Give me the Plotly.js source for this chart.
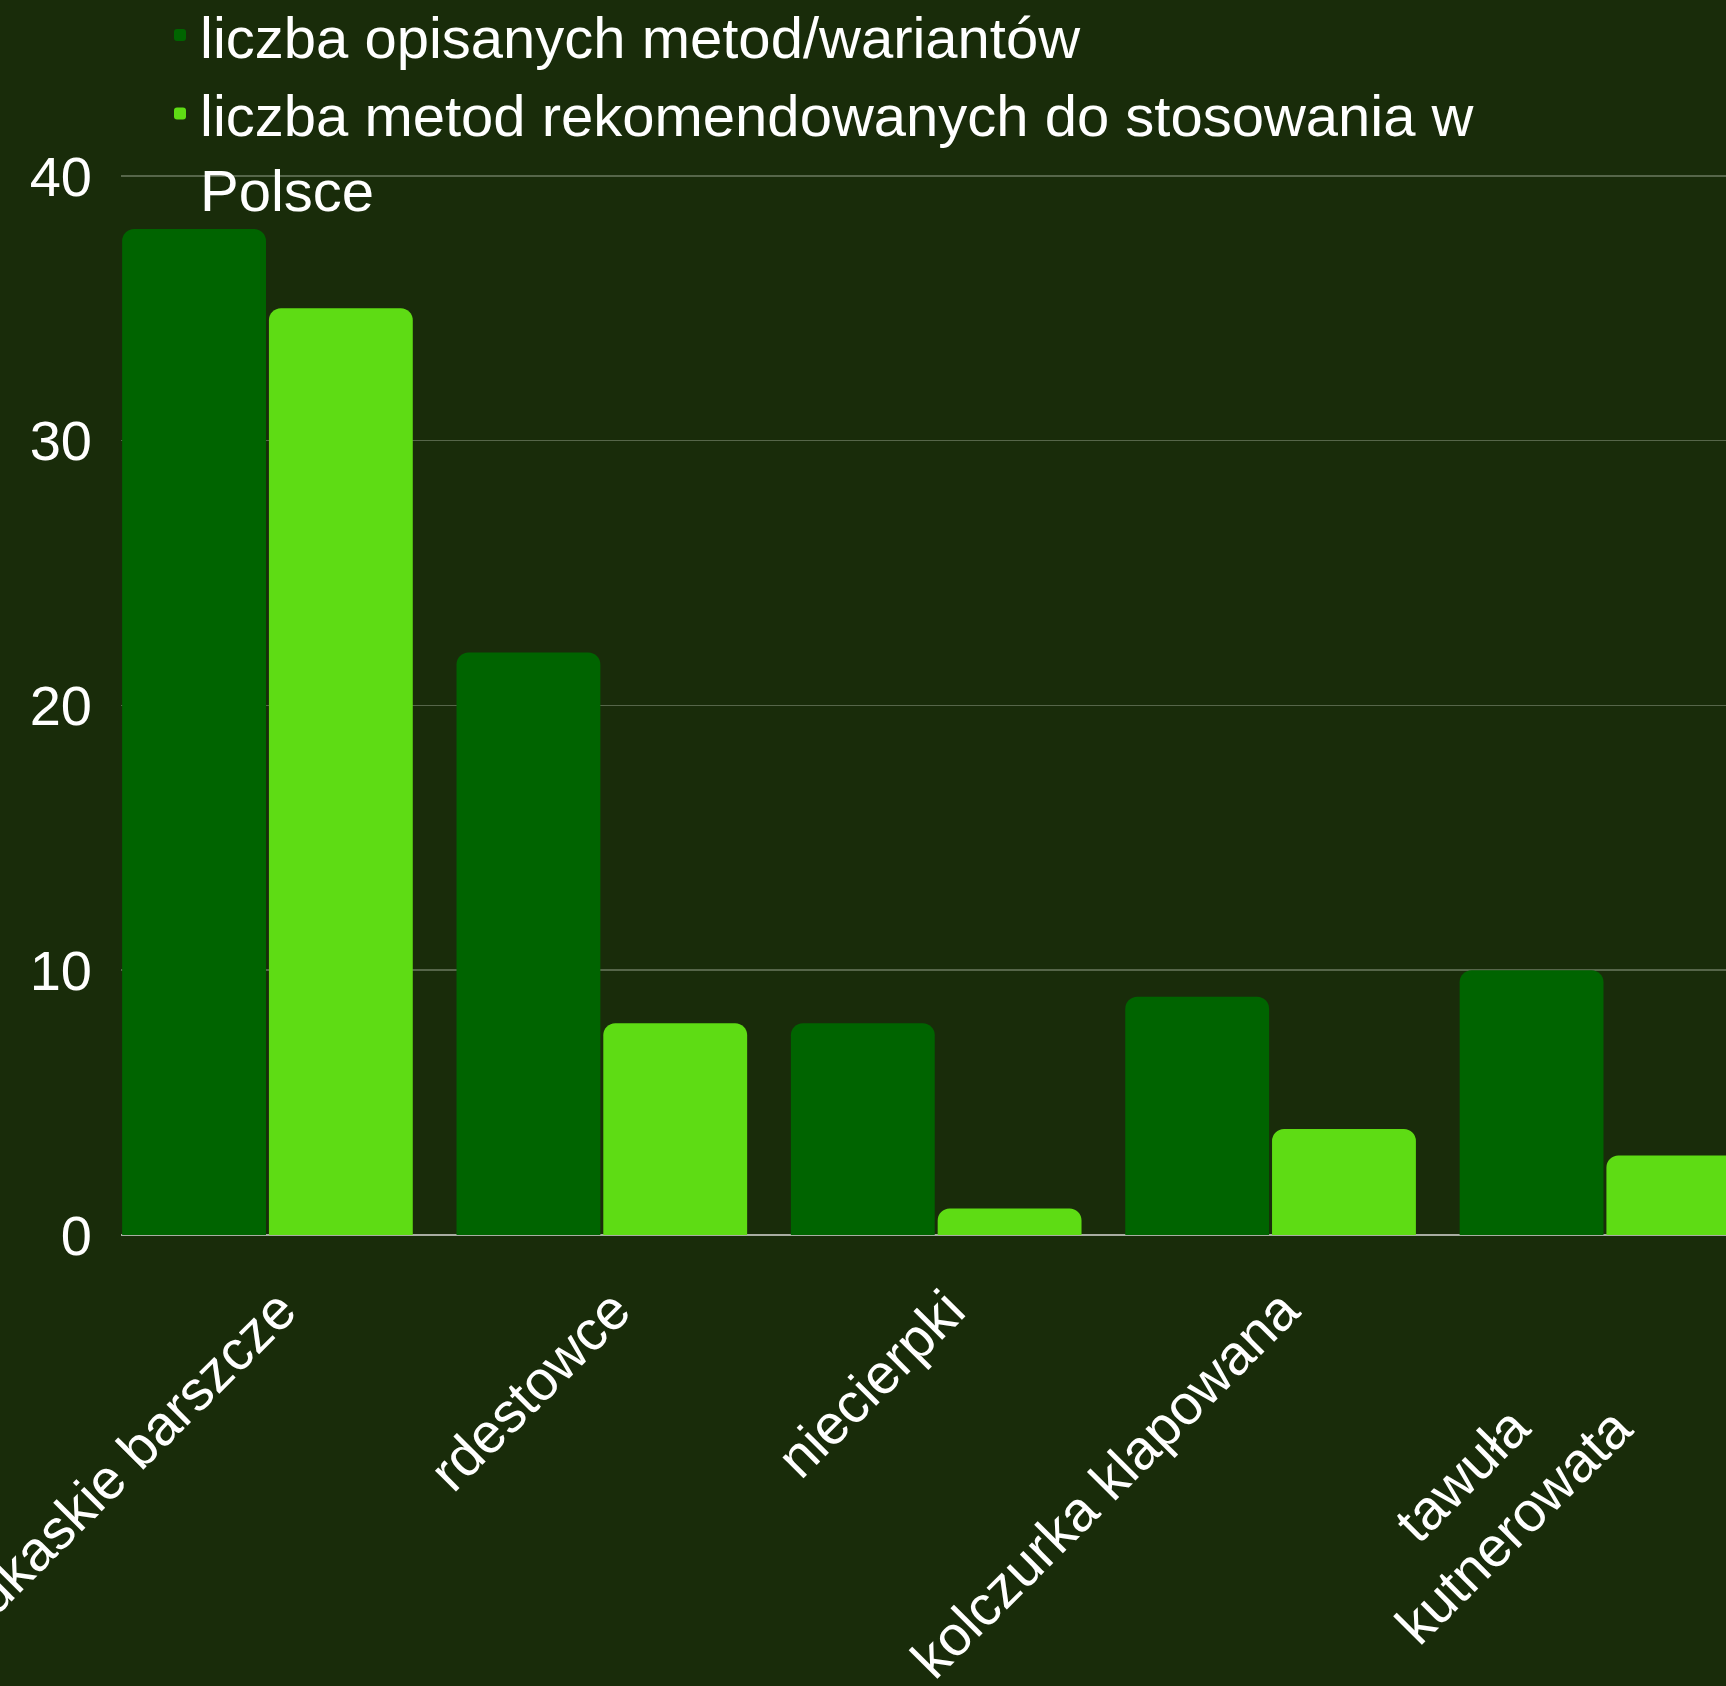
<!DOCTYPE html>
<html>
<head>
<meta charset="utf-8">
<script src="https://cdn.plot.ly/plotly-3.0.1.min.js"></script>
<style>
  html, body { margin: 0; padding: 0; overflow: hidden; background: #192C0A; }
  #chart { width: 1726px; height: 1686px; }
</style>
</head>
<body>
<div id="chart"></div>
<script>
const categories = ["kaukaskie barszcze", "rdestowce", "niecierpki", "kolczurka klapowana", "tawuła<br>kutnerowata"];
const seriesNames = ["liczba opisanych metod/wariantów", "liczba metod rekomendowanych do stosowania w<br>Polsce"];
const describedMethods = [38, 22, 8, 9, 10];
const recommendedMethods = [35, 8, 1, 4, 3];
const yTickValues = [0, 10, 20, 30, 40];

const FONT = "Liberation Sans, Arial, sans-serif";
const BG = "#192C0A";

// the two-line category label is drawn centred (as in the reference) via an annotation
const multiLineIdx = categories.findIndex(c => c.includes("<br>"));
const xTickText = categories.map((c, i) => (i === multiLineIdx ? "" : c));

const traces = [
  {
    type: "bar",
    name: seriesNames[0],
    x: categories,
    y: describedMethods,
    marker: { color: "#006400", cornerradius: 12 }
  },
  {
    type: "bar",
    name: seriesNames[1],
    x: categories,
    y: recommendedMethods,
    marker: { color: "#5EDC14", cornerradius: 12 }
  }
];

const layout = {
  width: 1726,
  height: 1686,
  paper_bgcolor: BG,
  plot_bgcolor: BG,
  margin: { l: 121, r: 0, t: 168, b: 451, pad: 0, autoexpand: false },
  barmode: "group",
  bargap: 0.122,
  bargroupgap: 0.02,
  font: { family: FONT, color: "#ffffff", size: 56 },
  showlegend: true,
  legend: {
    x: 0.0243, xanchor: "left",
    y: 1.166, yanchor: "top",
    valign: "top",
    bgcolor: "rgba(0,0,0,0)",
    font: { family: FONT, size: 58, color: "#ffffff" },
    tracegroupgap: 0
  },
  xaxis: {
    type: "category",
    range: [-0.438, 4.362],
    tickangle: -45,
    tickmode: "array",
    tickvals: categories,
    ticktext: xTickText,
    tickfont: { family: FONT, size: 56, color: "#ffffff" },
    showgrid: false,
    showline: false,
    ticks: "",
    ticklabelstandoff: 30,
    ticklabelshift: 12,
    fixedrange: true
  },
  yaxis: {
    range: [0, 40.3],
    tickvals: yTickValues,
    ticktext: yTickValues.map(String),
    tickfont: { family: FONT, size: 56, color: "#ffffff" },
    showgrid: true,
    gridcolor: "#56664A",
    gridwidth: 1.5,
    zeroline: true,
    zerolinecolor: "#A8ADA2",
    zerolinewidth: 2,
    showline: false,
    ticks: "",
    ticklabelstandoff: 28,
    fixedrange: true
  },
  annotations: multiLineIdx >= 0 ? [{
    x: categories[multiLineIdx], xref: "x",
    y: 0, yref: "y",
    text: categories[multiLineIdx],
    showarrow: false,
    textangle: -45,
    align: "center",
    xanchor: "center", yanchor: "middle",
    xshift: -117, yshift: -265,
    font: { family: FONT, size: 56, color: "#ffffff" }
  }] : []
};

Plotly.newPlot("chart", traces, layout, { displayModeBar: false, staticPlot: true });
</script>
</body>
</html>
